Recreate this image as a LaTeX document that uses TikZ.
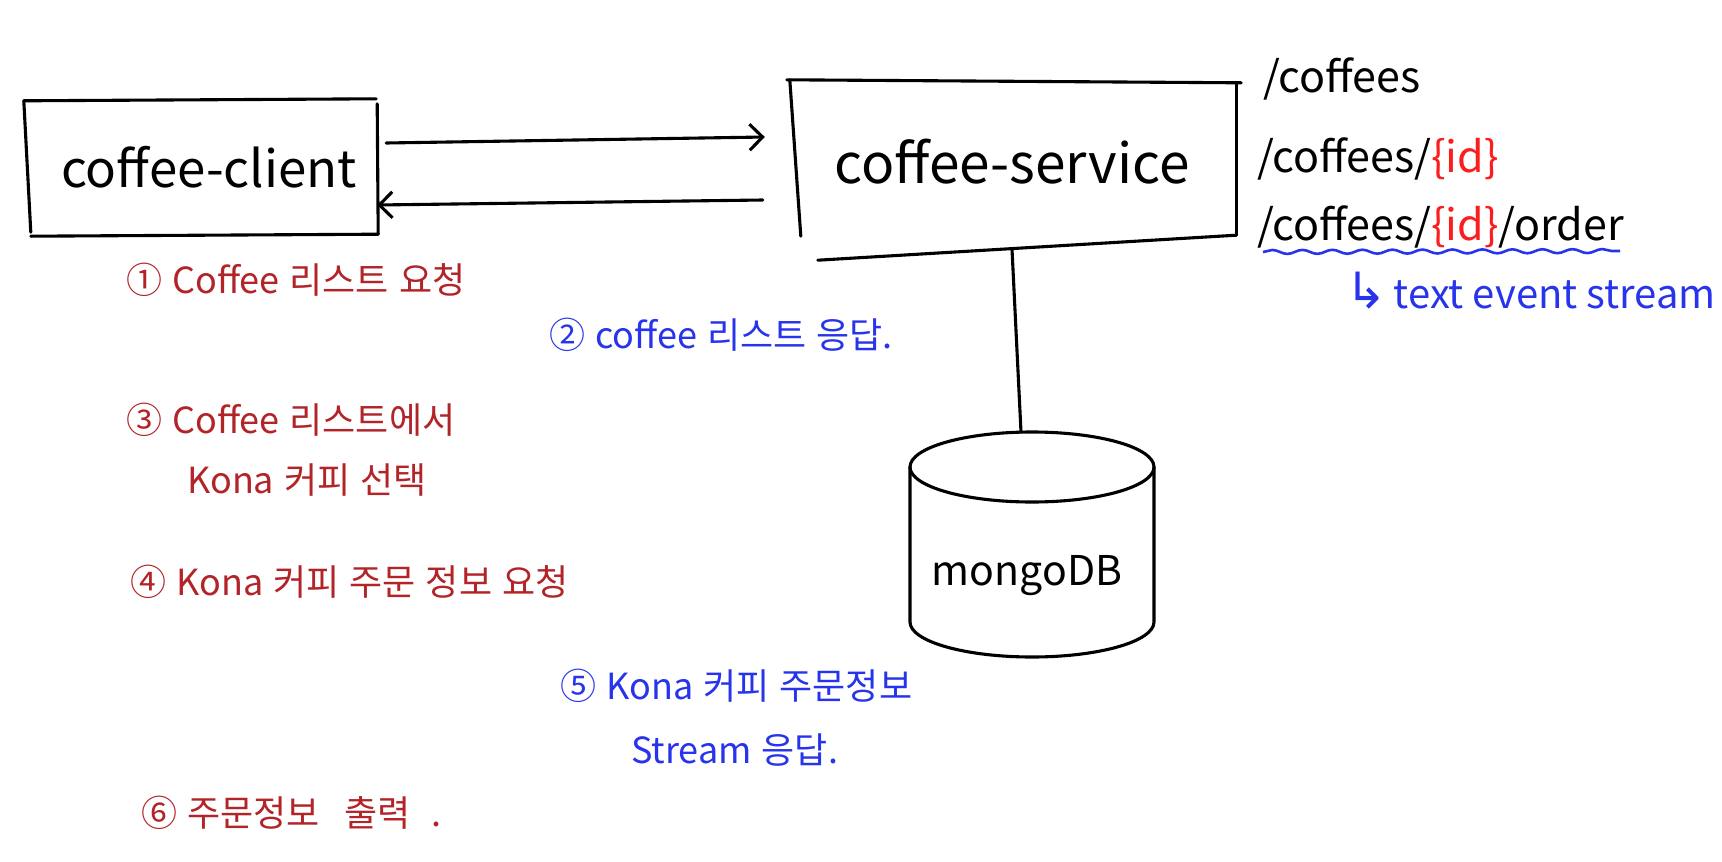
\documentclass[tikz,border=0pt]{standalone}
\usepackage{fontspec}
\setmainfont{Noto Sans CJK KR}
\newfontfamily\symfont{DejaVu Sans}
\usetikzlibrary{arrows.meta,decorations.pathmorphing,calc}
\definecolor{hred}{RGB}{178,36,40}
\definecolor{hblue}{RGB}{40,52,235}
\definecolor{idred}{RGB}{250,30,30}
\newcommand{\fs}[1]{\fontsize{#1}{#1}\selectfont}
\newcommand{\wide}{\spaceskip=0.28em plus 0.1em\relax}
\begin{document}
\begin{tikzpicture}[x=1pt,y=-1pt,
  ink/.style={line width=3.1pt, draw=black, line cap=round, line join=round},
  arr/.style={ink, -{Straight Barb[length=13pt,width=26pt,line width=3.1pt]}},
  boxnode/.style={draw=none, inner sep=0pt},
  lbl/.style={anchor=west, inner sep=0pt},
  redlbl/.style={lbl, text=hred, font=\fs{36}\wide},
  bluelbl/.style={lbl, text=hblue, font=\fs{36}\wide},
  url/.style={lbl, text=black, font=\fs{43}}]
\fill[white] (0,0) rectangle (1722,862);
\useasboundingbox (0,0) rectangle (1722,862);

% boxes
\node[boxnode, minimum width=354pt, minimum height=138pt, font=\fs{51}] (client) at (201,167) {\hspace{16pt}coffee-client};
\node[boxnode, minimum width=450pt, minimum height=160pt, font=\fs{55}] (service) at (1012,162) {coffee-service};

% client outline
\draw[ink] ($(client.north west)+(0,3)$) -- ($(client.north east)+(-2,1)$);
\draw[ink] ($(client.north west)+(0,3)$) -- ($(client.south west)+(7,-4)$);
\draw[ink] ($(client.north east)+(-1,6)$) -- ($(client.south east)+(0,-2)$);
\draw[ink] ($(client.south west)+(7,0)$) -- ($(client.south east)+(0,-2)$);

% service outline
\draw[ink] ($(service.north west)+(0,-2)$) -- ($(service.north east)+(4,1)$);
\draw[ink] ($(service.north west)+(3,-2)$) -- ($(service.south west)+(14,-6)$);
\draw[ink] ($(service.north east)+(-1,2)$) -- ($(service.south east)+(-1,-7)$);
\draw[ink] ($(service.south west)+(31,18)$) -- ($(service.south east)+(-1,-7)$);

% arrows between client and service
\draw[arr] ($(client.east)+(8,-24)$) -- ($(service.west)+(-22,-25)$);
\draw[arr] ($(service.west)+(-24,38)$) -- ($(client.east)+(-1,38)$);

% database
\node[boxnode, font=\fs{41}] (db) at (1027,576) {mongoDB};
\coordinate (dbtop) at (1021,432);
\draw[ink] (1032,467) ellipse [x radius=122, y radius=35];
\draw[ink] (910,467) -- (910,622)
  .. controls (910,641.3) and (964.6,657) .. (1032,657)
  .. controls (1099.4,657) and (1154,641.3) .. (1154,622) -- (1154,467);
\draw[ink] ($(service.south)+(0,7)$) -- (dbtop);

% endpoints
\node[url] (url1) at (1263,79) {/coffees};
\node[url] (url2) at (1257,159) {/coffees/\textcolor{idred}{\{id\}}};
\node[url] (url3) at (1257,227) {/coffees/\textcolor{idred}{\{id\}}/order};
\draw[line width=2.6pt, hblue, decorate, decoration={snake, amplitude=2pt, segment length=30pt}] (1263,252) -- (1620,251);
\node[lbl, text=hblue, font=\fs{40}] (tes) at (1345,291) {{\symfont\fontsize{50}{50}\selectfont ↳}\,text event stream};

% steps
\node[redlbl] (s1) at (126,280) {① Coffee 리스트 요청};
\node[bluelbl] (s2) at (549,335) {② coffee 리스트 응답.};
\node[redlbl] (s3a) at (126,420) {③ Coffee 리스트에서};
\node[redlbl] (s3b) at (187,480) {Kona 커피 선택};
\node[redlbl] (s4) at (130,582) {④ Kona 커피 주문 정보 요청};
\node[bluelbl] (s5a) at (560,686) {⑤ Kona 커피 주문정보};
\node[bluelbl] (s5b) at (631,750) {Stream 응답.};
\node[redlbl] (s6) at (141,813) {⑥ 주문정보\hspace{0.4em} 출력\hspace{0.3em} .};
\end{tikzpicture}
\end{document}
